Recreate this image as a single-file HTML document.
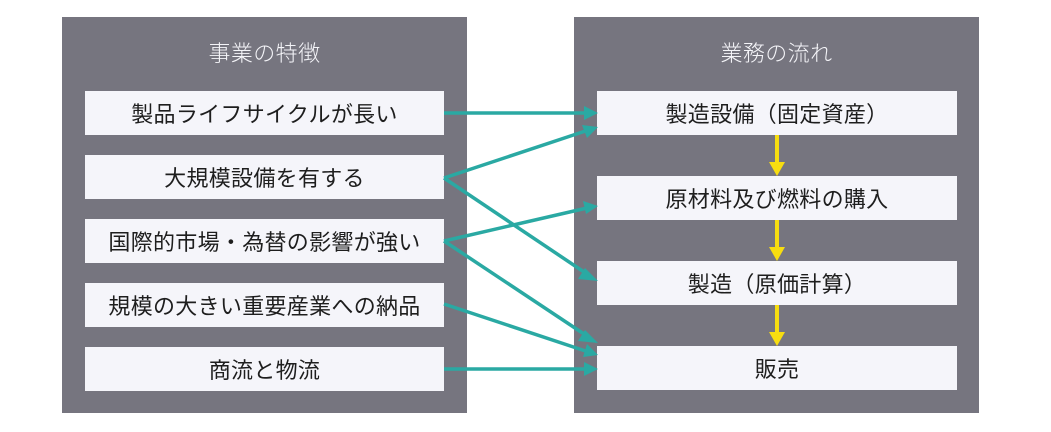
<!DOCTYPE html>
<html><head><meta charset="utf-8"><style>
body{margin:0;width:1051px;height:432px;background:#fff;position:relative;overflow:hidden;font-family:"Liberation Sans","Noto Sans CJK JP",sans-serif;}
.p{position:absolute;background:#76757f;}
.t{position:absolute;color:#f4f4f8;font-size:22px;letter-spacing:0.4px;text-align:center;font-weight:300;line-height:28px;}
.b{position:absolute;background:#f5f5fa;font-size:22px;letter-spacing:0.3px;color:#1e1e1e;display:flex;align-items:center;justify-content:center;font-weight:400;}
svg{position:absolute;left:0;top:0;}
</style></head><body>
<div class="p" style="left:62px;top:17px;width:405px;height:396px"></div>
<div class="p" style="left:574px;top:17px;width:405px;height:396px"></div>
<div class="t" style="left:62px;top:40px;width:405px">事業の特徴</div>
<div class="t" style="left:574px;top:40px;width:405px">業務の流れ</div>
<div class="b" style="left:85px;top:91px;width:359px;height:44px">製品ライフサイクルが長い</div>
<div class="b" style="left:85px;top:155px;width:359px;height:44px">大規模設備を有する</div>
<div class="b" style="left:85px;top:219px;width:359px;height:44px">国際的市場・為替の影響が強い</div>
<div class="b" style="left:85px;top:283px;width:359px;height:44px">規模の大きい重要産業への納品</div>
<div class="b" style="left:85px;top:347px;width:359px;height:44px">商流と物流</div>
<div class="b" style="left:597px;top:91px;width:360px;height:44px">製造設備（固定資産）</div>
<div class="b" style="left:597px;top:176px;width:360px;height:44px">原材料及び燃料の購入</div>
<div class="b" style="left:597px;top:261px;width:360px;height:44px">製造（原価計算）</div>
<div class="b" style="left:597px;top:346px;width:360px;height:44px">販売</div>
<svg width="1051" height="432">
<g stroke="#2aa9a3" stroke-width="3.5" fill="none">
<line x1="444" y1="113" x2="586" y2="113"/>
<polygon points="598,113 584,106 584,120" fill="#2aa9a3" stroke="none"/>
<line x1="444" y1="178" x2="587" y2="130.5"/>
<polygon points="598,127 582,125 587,138" fill="#2aa9a3" stroke="none"/>
<line x1="444" y1="178" x2="587" y2="274"/>
<polygon points="598,281 585,268 578,279" fill="#2aa9a3" stroke="none"/>
<line x1="444" y1="241" x2="587" y2="208"/>
<polygon points="598,206 583,201 586,214" fill="#2aa9a3" stroke="none"/>
<line x1="444" y1="241" x2="587" y2="336"/>
<polygon points="598,343 585,330 578,341" fill="#2aa9a3" stroke="none"/>
<line x1="444" y1="304" x2="587" y2="351.5"/>
<polygon points="598,355 587,344 583,357" fill="#2aa9a3" stroke="none"/>
<line x1="444" y1="369" x2="586" y2="369"/>
<polygon points="598,369 584,362 584,376" fill="#2aa9a3" stroke="none"/>
</g>
<g stroke="#f7dd10" stroke-width="4">
<line x1="777" y1="135" x2="777" y2="164"/>
<line x1="777" y1="220" x2="777" y2="249"/>
<line x1="777" y1="305" x2="777" y2="334"/>
</g>
<g fill="#f7dd10">
<polygon points="769,162 785,162 777,176"/>
<polygon points="769,247 785,247 777,261"/>
<polygon points="769,332 785,332 777,346"/>
</g>
</svg>
</body></html>
